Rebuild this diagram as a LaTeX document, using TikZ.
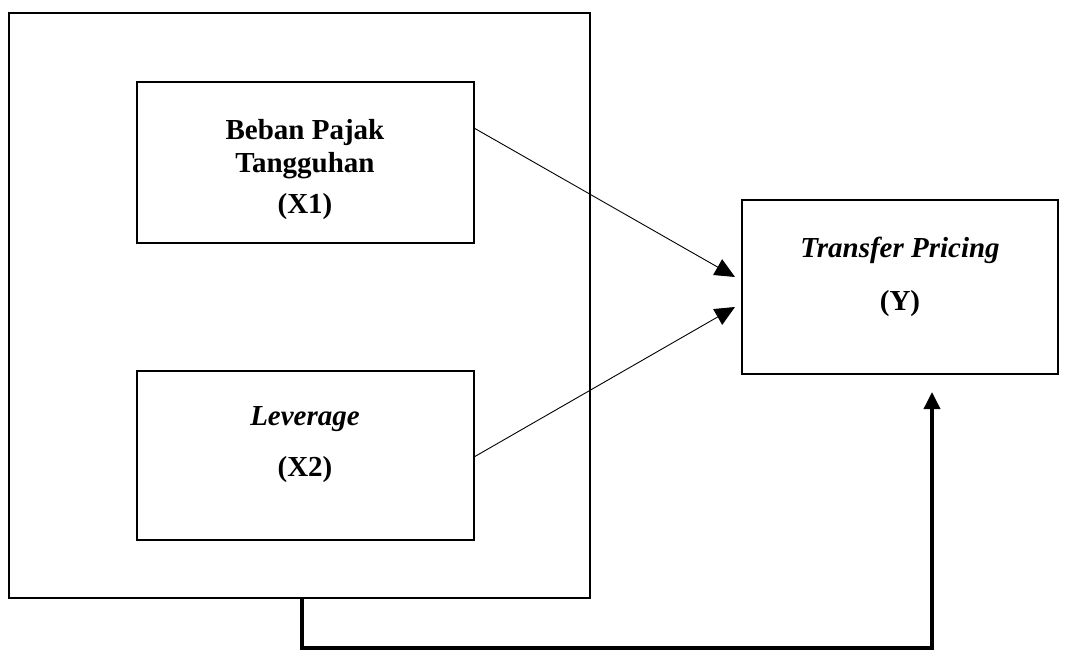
\documentclass[tikz,border=0pt]{standalone}
\usepackage{fontspec}
\setmainfont{Liberation Serif}
\usetikzlibrary{arrows.meta}
\begin{document}
\begin{tikzpicture}[x=1pt,y=-1pt,
  box/.style={draw,line width=1.6pt,inner sep=0pt},
  txt/.style={font=\fontsize{29}{34}\selectfont\bfseries,inner sep=0pt,anchor=base},
  thin/.style={line width=0.9pt,-{Triangle[length=20pt,width=18pt]}},
  thick/.style={line width=3.6pt,-{Triangle[length=17pt,width=16pt]}}]
\useasboundingbox (0,0) rectangle (1068,652);
% outer frame
\node[box,minimum width=581pt,minimum height=585pt] (outer) at (299.5,305.5) {};
% boxes
\node[box,minimum width=337pt,minimum height=161pt] (x1) at (305.5,162.5) {};
\node[box,minimum width=337pt,minimum height=169pt] (x2) at (305.5,455.5) {};
\node[box,minimum width=316pt,minimum height=174pt] (y) at (900,287) {};
% texts
\node[txt] (t1) at (305,140) {Beban Pajak};
\node[txt] (t2) at (305,173) {Tangguhan};
\node[txt] (t3) at (305,214) {(X1)};
\node[txt] (t4) at (305,425) {\itshape Leverage};
\node[txt] (t5) at (305,476) {(X2)};
\node[txt] (t6) at (900,258) {\itshape Transfer Pricing};
\node[txt] (t7) at (900,311) {(Y)};
% arrows
\coordinate (a1) at (474,128);
\coordinate (a2) at (474,457);
\coordinate (e1) at (735,277);
\coordinate (e2) at (735,307);
\draw[thin] (a1) -- (e1);
\draw[thin] (a2) -- (e2);
\coordinate (s) at (302,598);
\coordinate (c1) at (302,648);
\coordinate (c2) at (932,648);
\coordinate (e3) at (932,392);
\draw[thick,line join=miter] (s) -- (c1) -- (c2) -- (e3);
\end{tikzpicture}
\end{document}
